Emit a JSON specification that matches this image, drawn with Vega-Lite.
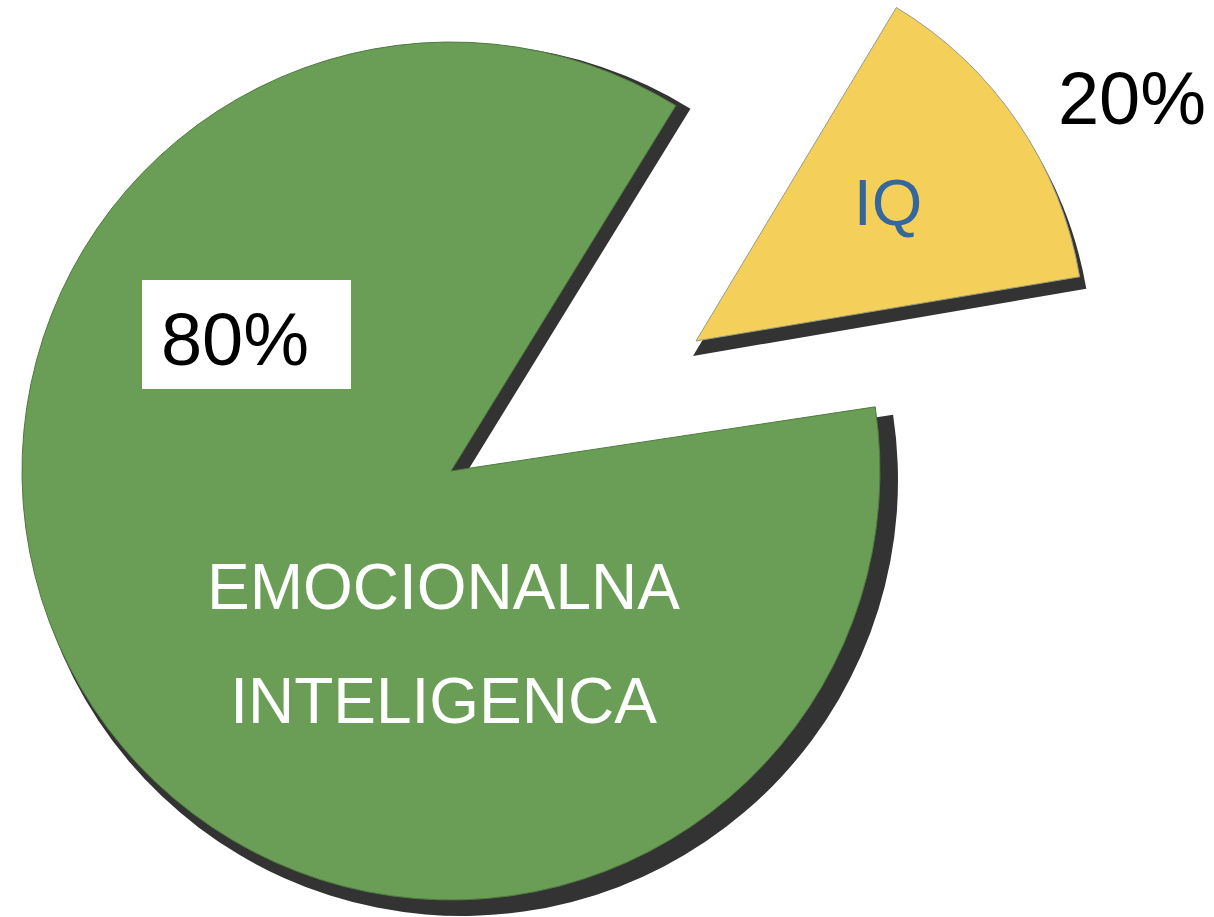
{
  "$schema": "https://vega.github.io/schema/vega-lite/v6.json",
  "autosize": "none",
  "width": 902,
  "height": 892,
  "padding": {"left": 0, "top": 25, "right": 312, "bottom": 0},
  "background": "white",
  "config": {"view": {"stroke": null}},
  "data": {
    "values": [
      {"category": "EMOCIONALNA INTELIGENCA", "share": 80, "label": "80%"},
      {"category": "IQ", "share": 20, "label": "20%"}
    ]
  },
  "layer": [
    {
      "transform": [{"filter": "datum.category === 'EMOCIONALNA INTELIGENCA'"}],
      "mark": {"type": "arc", "radius": 436, "fill": "#333333", "x": {"expr": "width/2+11"}, "y": {"expr": "height/2+9"}},
      "encoding": {"theta": {"field": "share", "type": "quantitative", "scale": {"domain": [0, 80], "range": [1.4207, 6.8347]}}}
    },
    {
      "transform": [{"filter": "datum.category === 'EMOCIONALNA INTELIGENCA'"}],
      "mark": {"type": "arc", "radius": 429, "fill": "#6a9d55", "stroke": "#4f7a3e", "strokeWidth": 1},
      "encoding": {"theta": {"field": "share", "type": "quantitative", "scale": {"domain": [0, 80], "range": [1.4207, 6.8347]}}}
    },
    {
      "transform": [{"filter": "datum.category === 'IQ'"}],
      "mark": {"type": "arc", "radius": 399, "fill": "#333333", "x": {"expr": "width/2+242"}, "y": {"expr": "height/2-115"}},
      "encoding": {"theta": {"field": "share", "type": "quantitative", "scale": {"domain": [0, 20], "range": [0.54105, 1.4015]}}}
    },
    {
      "transform": [{"filter": "datum.category === 'IQ'"}],
      "mark": {"type": "arc", "radius": 389, "fill": "#f4d05a", "stroke": "#9a9a85", "strokeWidth": 1, "x": {"expr": "width/2+245"}, "y": {"expr": "height/2-130"}},
      "encoding": {"theta": {"field": "share", "type": "quantitative", "scale": {"domain": [0, 20], "range": [0.54105, 1.40499]}}}
    },
    {
      "transform": [{"filter": "datum.category === 'EMOCIONALNA INTELIGENCA'"}],
      "mark": {"type": "point", "shape": "M-1.917,-1H1.917V1H-1.917Z", "size": 11881, "filled": true, "color": "white", "opacity": 1, "strokeWidth": 0, "x": {"expr": "width/2-204.5"}, "y": {"expr": "height/2-136.5"}},
      "encoding": {}
    },
    {
      "transform": [{"filter": "datum.category === 'EMOCIONALNA INTELIGENCA'"}],
      "mark": {"type": "text", "font": "Liberation Sans", "fontSize": 74, "color": "black", "align": "center", "baseline": "alphabetic", "dx": -216, "dy": -106},
      "encoding": {"text": {"field": "label"}}
    },
    {
      "transform": [{"filter": "datum.category === 'EMOCIONALNA INTELIGENCA'"}],
      "mark": {"type": "text", "font": "Liberation Sans", "fontSize": 64, "color": "white", "align": "center", "baseline": "alphabetic", "lineBreak": " ", "lineHeight": 114, "dx": -7.5, "dy": 138},
      "encoding": {"text": {"field": "category"}}
    },
    {
      "transform": [{"filter": "datum.category === 'IQ'"}],
      "mark": {"type": "text", "font": "Liberation Sans", "fontSize": 65, "color": "#36669e", "align": "center", "baseline": "alphabetic", "dx": 437, "dy": -246},
      "encoding": {"text": {"field": "category"}}
    },
    {
      "transform": [{"filter": "datum.category === 'IQ'"}],
      "mark": {"type": "text", "font": "Liberation Sans", "fontSize": 74, "color": "black", "align": "center", "baseline": "alphabetic", "dx": 681, "dy": -347},
      "encoding": {"text": {"field": "label"}}
    }
  ],
  "resolve": {"scale": {"theta": "independent"}}
}
